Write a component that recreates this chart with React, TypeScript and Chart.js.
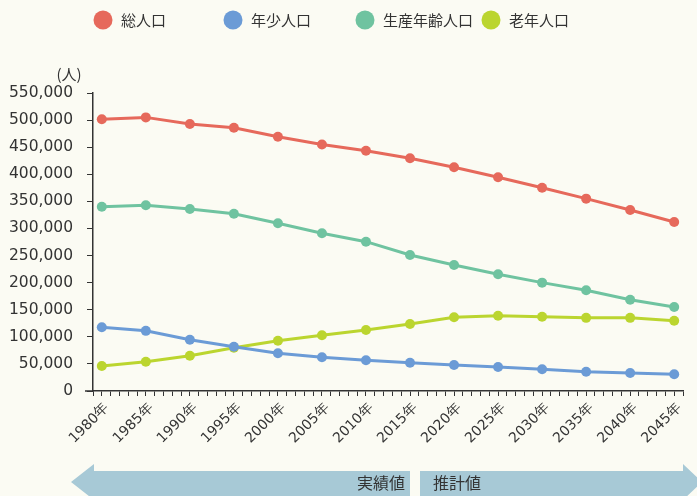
import React, { useEffect, useRef } from "react";
import { Chart, registerables } from "chart.js";

Chart.register(...registerables);

const years = [1980, 1985, 1990, 1995, 2000, 2005, 2010, 2015, 2020, 2025, 2030, 2035, 2040, 2045];
const totalPop = [501500, 505000, 492800, 486000, 469400, 455000, 443500, 429500, 413000, 394400, 375000, 355000, 334000, 312000];
const youthPop = [117600, 111000, 94700, 81800, 69600, 62200, 56700, 52200, 48000, 44300, 40000, 35600, 33200, 30800];
const workingPop = [340000, 342700, 336000, 327000, 309500, 291000, 275600, 251000, 232600, 215400, 200000, 186000, 168500, 155000];
const elderlyPop = [46000, 54000, 65000, 80000, 92800, 103000, 112600, 123700, 136000, 139000, 137000, 135000, 135000, 129700];

const seriesNames = ["総人口", "年少人口", "生産年齢人口", "老年人口"];
const seriesColors = ["#e6695b", "#6b9bd6", "#6fc3a0", "#bbd52f"];
const legendX = [103, 233, 365, 491];
const yTickLabels = { min: 0, max: 550000, step: 50000 };

const bgColor = "#fbfbf3";
const textColor = "#333333";
const arrowColor = "#a7c9d6";

const decorPlugin = {
  id: "decor",
  beforeDraw(chart: any) {
    const ctx = chart.ctx;
    ctx.save();
    ctx.fillStyle = bgColor;
    ctx.fillRect(0, 0, chart.width, chart.height);
    ctx.restore();
  },
  afterDraw(chart: any) {
    const ctx = chart.ctx;
    const area = chart.chartArea;
    ctx.save();
    // small extension of x axis line to the left of y axis
    ctx.strokeStyle = textColor;
    ctx.lineWidth = 1.5;
    ctx.beginPath();
    ctx.moveTo(85, area.bottom);
    ctx.lineTo(area.left, area.bottom);
    ctx.stroke();

    // legend
    ctx.font = '15px "Noto Sans CJK JP"';
    ctx.textBaseline = "middle";
    ctx.textAlign = "left";
    seriesNames.forEach((name, i) => {
      ctx.fillStyle = seriesColors[i];
      ctx.beginPath();
      ctx.ellipse(legendX[i], 20, 9.5, 9.5, 0, 0, Math.PI * 2);
      ctx.fill();
      ctx.fillStyle = textColor;
      ctx.fillText(name, legendX[i] + 18, 20);
    });
    // unit
    ctx.font = '15px "Noto Sans CJK JP"';
    ctx.textAlign = "center";
    ctx.fillText("(人)", 69, 74);

    // arrows
    ctx.fillStyle = arrowColor;
    ctx.beginPath();
    ctx.moveTo(71, 482);
    ctx.lineTo(94, 464);
    ctx.lineTo(94, 471);
    ctx.lineTo(410, 471);
    ctx.lineTo(410, 496);
    ctx.lineTo(94, 496);
    ctx.lineTo(94, 500);
    ctx.closePath();
    ctx.fill();

    ctx.beginPath();
    ctx.moveTo(420, 471);
    ctx.lineTo(683, 471);
    ctx.lineTo(683, 464);
    ctx.lineTo(702, 482);
    ctx.lineTo(683, 500);
    ctx.lineTo(683, 496);
    ctx.lineTo(420, 496);
    ctx.closePath();
    ctx.fill();

    ctx.fillStyle = textColor;
    ctx.font = '16px "Noto Sans CJK JP"';
    ctx.textAlign = "right";
    ctx.fillText("実績値", 405, 483);
    ctx.textAlign = "left";
    ctx.fillText("推計値", 433, 483);
    ctx.restore();
  },
};

export default function App() {
  const ref = useRef<HTMLCanvasElement | null>(null);

  useEffect(() => {
    document.body.style.margin = "0";
    document.body.style.background = bgColor;
    const canvas = ref.current;
    if (!canvas) return;
    const allSeries = [totalPop, youthPop, workingPop, elderlyPop];
    const chart = new Chart(canvas, {
      type: "line",
      data: {
        datasets: allSeries.map((arr, i) => ({
          label: seriesNames[i],
          data: years.map((yr, j) => ({ x: yr, y: arr[j] })),
          borderColor: seriesColors[i],
          backgroundColor: seriesColors[i],
          borderWidth: 3,
          pointRadius: 5,
          pointBorderWidth: 0,
          tension: 0,
          fill: false,
        })),
      },
      options: {
        responsive: false,
        animation: false,
        layout: { padding: { top: 93, right: 14, left: 0, bottom: 0 } },
        plugins: { legend: { display: false }, tooltip: { enabled: false } },
        scales: {
          x: {
            type: "linear",
            min: 1979,
            max: 2046,
            afterBuildTicks: (s: any) => {
              const t = [];
              for (let y = 1979; y <= 2046; y++) t.push({ value: y });
              s.ticks = t;
            },
            afterFit: (s: any) => {
              s.height = 105;
              s.paddingLeft = 0;
              s.paddingRight = 0;
            },
            ticks: {
              autoSkip: false,
              minRotation: 45,
              maxRotation: 45,
              padding: 4,
              labelOffset: 5,
              color: textColor,
              font: { family: "DejaVu Sans", size: 14 },
              callback: (v: any) => (Number(v) % 5 === 0 ? `${v}年` : ""),
            },
            grid: { drawOnChartArea: false, drawTicks: true, tickLength: 5, color: textColor },
            border: { color: textColor, width: 1.5 },
          },
          y: {
            min: yTickLabels.min,
            max: yTickLabels.max,
            afterFit: (s: any) => {
              s.width = 93;
            },
            ticks: {
              stepSize: yTickLabels.step,
              padding: 14,
              color: textColor,
              font: { family: "DejaVu Sans", size: 15.5 },
              callback: (v: any) => Number(v).toLocaleString("en-US"),
            },
            grid: { drawOnChartArea: false, drawTicks: true, tickLength: 6, color: textColor },
            border: { color: textColor, width: 1.5 },
          },
        },
      },
      plugins: [decorPlugin],
    });
    return () => chart.destroy();
  }, []);

  return <canvas ref={ref} width={697} height={496} style={{ display: "block" }} />;
}
